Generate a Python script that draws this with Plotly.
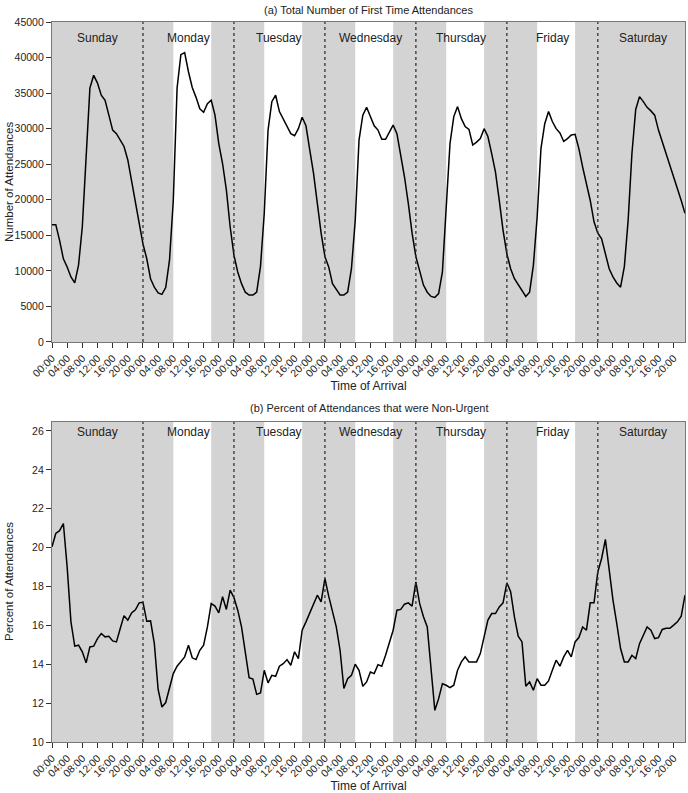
import plotly.graph_objects as go

days = ["Sunday", "Monday", "Tuesday", "Wednesday", "Thursday", "Friday", "Saturday"]
hours = list(range(168))
tick_hours = list(range(0, 168, 4))
tick_text = ["%02d:00" % (h % 24) for h in tick_hours]

# (a) total first time attendances, hourly from Sunday 00:00
attendances = [
    16500, 16500, 14300, 11700, 10550, 9150, 8300, 10800, 16200, 25100, 35700, 37500,
    36400, 34700, 34000, 31900, 29800, 29300, 28400, 27500, 25600, 22800, 19900, 16700,
    13800, 11700, 8900, 7700, 6900, 6700, 7650, 11500, 19900, 35700, 40400, 40700,
    38000, 35800, 34400, 32800, 32300, 33500, 34000, 31900, 27900, 25100, 21400, 16200,
    12200, 9850, 8200, 7000, 6600, 6600, 7000, 10600, 18100, 29800, 33800, 34700,
    32400, 31400, 30500, 29300, 29000, 30000, 31600, 30400, 27000, 23700, 19500, 15300,
    12000, 10550, 8200, 7300, 6600, 6600, 7000, 10300, 17100, 28400, 31900, 33000,
    31700, 30400, 29800, 28500, 28500, 29600, 30500, 29300, 26500, 23200, 19500, 15300,
    12000, 9850, 8000, 7000, 6400, 6250, 6800, 9850, 18100, 27900, 31700, 33100,
    31400, 30300, 29900, 27700, 28100, 28600, 30000, 28900, 26500, 23900, 19900, 15700,
    12400, 10300, 8900, 8000, 7300, 6400, 7000, 10800, 17600, 27200, 30700, 32400,
    31000, 30000, 29400, 28200, 28600, 29100, 29200, 27200, 24600, 22300, 19900, 16900,
    15300, 14500, 12400, 10300, 9150, 8300, 7700, 10600, 17100, 26500, 32700, 34500,
    33800, 33000, 32500, 31900, 29800, 28200, 26500, 24900, 23200, 21600, 19900, 18100,
]

# (b) percent non-urgent
non_urgent = [
    20.04, 20.73, 20.87, 21.24, 19.0, 16.18, 14.93, 14.98, 14.64, 14.07, 14.89, 14.93,
    15.32, 15.58, 15.41, 15.44, 15.2, 15.15, 15.84, 16.5, 16.27, 16.64, 16.8, 17.16,
    17.19, 16.21, 16.23, 15.06, 12.7, 11.8, 12.03, 12.83, 13.52, 13.9, 14.12, 14.38,
    14.98, 14.33, 14.24, 14.72, 14.98, 15.92, 17.12, 16.99, 16.64, 17.47, 16.82, 17.81,
    17.43, 16.78, 15.92, 14.72, 13.31, 13.24, 12.45, 12.52, 13.69, 13.04, 13.43, 13.38,
    13.9, 14.03, 14.24, 13.95, 14.64, 14.29, 15.75, 16.18, 16.64, 17.09, 17.55, 17.21,
    18.41, 17.5, 16.7, 15.92, 14.72, 12.75, 13.26, 13.43, 14.0, 13.69, 12.87, 13.09,
    13.6, 13.52, 13.98, 13.9, 14.46, 15.06, 15.75, 16.78, 16.82, 17.09, 17.16, 16.99,
    18.24, 17.12, 16.44, 15.92, 13.69, 11.63, 12.23, 13.0, 12.92, 12.8, 12.92, 13.69,
    14.12, 14.38, 14.12, 14.12, 14.12, 14.55, 15.41, 16.27, 16.61, 16.61, 16.95, 17.16,
    18.19, 17.73, 16.44, 15.44, 15.15, 12.87, 13.09, 12.66, 13.26, 12.92, 12.92, 13.14,
    13.69, 14.21, 13.9, 14.38, 14.72, 14.38, 15.15, 15.37, 15.92, 15.75, 17.16, 17.16,
    18.76, 19.44, 20.42, 18.84, 17.3, 16.09, 14.81, 14.12, 14.12, 14.46, 14.29, 15.06,
    15.49, 15.92, 15.75, 15.32, 15.37, 15.79, 15.85, 15.85, 16.01, 16.18, 16.47, 17.55,
]

# grey = out of hours (weekday 08:00-18:00 is white)
out_of_hours = []
for d in range(7):
    if d in (0, 6):
        out_of_hours.append((d * 24, d * 24 + 24))
    else:
        out_of_hours.append((d * 24, d * 24 + 8))
        out_of_hours.append((d * 24 + 18, d * 24 + 24))

font = "Liberation Sans, Arial, sans-serif"
grey = "rgb(211,211,211)"

fig = go.Figure()
fig.add_trace(go.Scatter(x=hours, y=attendances, mode="lines",
                         line=dict(color="black", width=1.5), xaxis="x", yaxis="y"))
fig.add_trace(go.Scatter(x=hours, y=non_urgent, mode="lines",
                         line=dict(color="black", width=1.5), xaxis="x2", yaxis="y2"))

shapes = []
annotations = []
for xa, ya, label_y in (("x", "y", 0.95), ("x2", "y2", 0.968)):
    for x0, x1 in out_of_hours:
        shapes.append(dict(type="rect", xref=xa, yref=ya + " domain", x0=x0, x1=min(x1, 167),
                           y0=0, y1=1, fillcolor=grey, line=dict(width=0), layer="below"))
    for d in range(1, 7):
        shapes.append(dict(type="line", xref=xa, yref=ya + " domain", x0=d * 24, x1=d * 24,
                           y0=0, y1=1, line=dict(color="#333", width=1.3, dash="dot")))
    for d, name in enumerate(days):
        annotations.append(dict(text=name, xref=xa, yref=ya + " domain", x=d * 24 + 12,
                                y=label_y, yanchor="middle", showarrow=False,
                                font=dict(size=12, color="#222")))

annotations.append(dict(text="(a) Total Number of First Time Attendances", xref="paper", yref="paper",
                        x=0.5, y=1.0, yshift=12, showarrow=False, yanchor="middle",
                        font=dict(size=11, color="#222")))
annotations.append(dict(text="(b) Percent of Attendances that were Non-Urgent", xref="paper", yref="paper",
                        x=0.5, y=0.4444, yshift=14, showarrow=False, yanchor="middle",
                        font=dict(size=11, color="#222")))
# y axis titles as rotated annotations so they sit where the reference has them
for ya, title in (("y", "Number of Attendances"), ("y2", "Percent of Attendances")):
    annotations.append(dict(text=title, xref="paper", yref=ya + " domain", x=0, y=0.5,
                            xshift=-43, textangle=-90, showarrow=False,
                            xanchor="center", yanchor="middle",
                            font=dict(size=11.5, color="#222")))

xaxis_common = dict(range=[0, 167], tickvals=tick_hours, ticktext=tick_text, tickangle=-45,
                    ticks="outside", ticklen=5, tickcolor="#333", showgrid=False, zeroline=False,
                    showline=True, linecolor="#777", linewidth=1.2, mirror=True, automargin=False,
                    tickfont=dict(size=10.5, color="#222"),
                    title=dict(text="Time of Arrival", font=dict(size=12, color="#222"), standoff=1))
yaxis_common = dict(ticks="outside", ticklen=5, tickcolor="#333", showgrid=False, zeroline=False,
                    showline=True, linecolor="#777", linewidth=1.2, mirror=True, automargin=False,
                    tickformat="d", tickfont=dict(size=10.5, color="#222"))

fig.update_layout(
    width=688, height=793,
    margin=dict(l=52, r=3, t=22, b=51),
    paper_bgcolor="white", plot_bgcolor="white",
    font=dict(family=font, color="#222"),
    showlegend=False,
    shapes=shapes, annotations=annotations,
    xaxis=dict(domain=[0, 1], anchor="y", **xaxis_common),
    yaxis=dict(domain=[0.5556, 1], anchor="x", range=[0, 45000], tickvals=list(range(0, 45001, 5000)),
               **yaxis_common),
    xaxis2=dict(domain=[0, 1], anchor="y2", **xaxis_common),
    yaxis2=dict(domain=[0, 0.4444], anchor="x2", range=[10, 26.46], tickvals=list(range(10, 27, 2)),
                **yaxis_common),
)

# drop the page's default body margin so the figure fills the window
fig.write_html("out.html", config={"displayModeBar": False},
               post_script="document.body.style.margin='0';")
